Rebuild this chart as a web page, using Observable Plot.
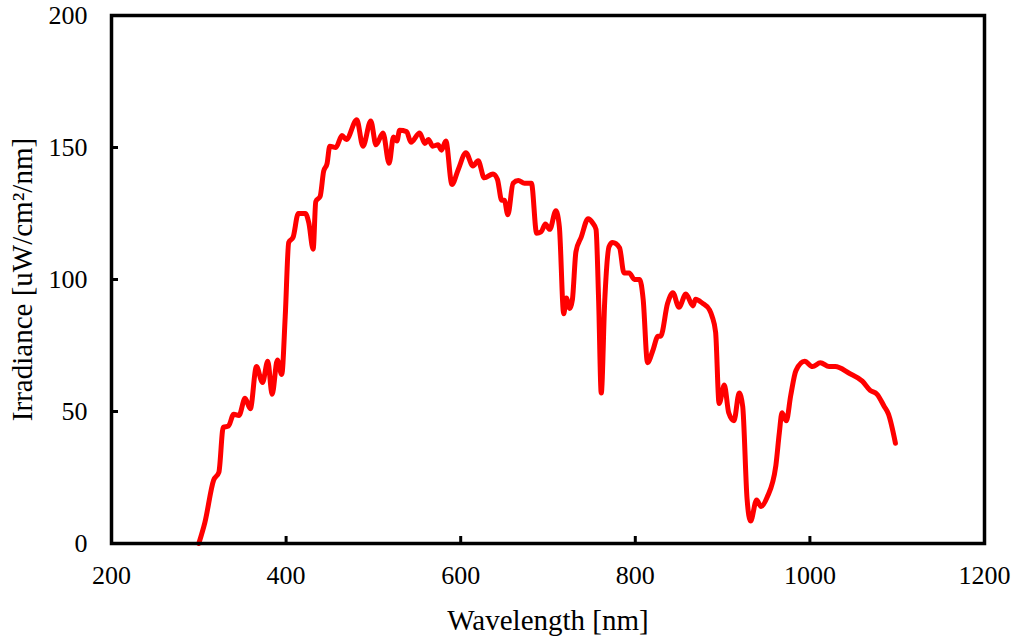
<!DOCTYPE html>
<html>
<head>
<meta charset="utf-8">
<script src="https://cdn.jsdelivr.net/npm/d3@7"></script>
<script src="https://cdn.jsdelivr.net/npm/@observablehq/plot@0.6"></script>
<style>
  html, body { margin: 0; padding: 0; background: #fff; }
</style>
</head>
<body>
<div id="chart"></div>
<script>
const wavelength = [300,307,317,323,328,334,340,346,353,359,366,373,379,384,390,395,399,403,408,414,422,426,431,434,439,443,447,450,457,464,469,481,488,497,503,511,518,523,527,530,538,543,553,559,563,568,574,578,583,590,597,606,614,620,627,637,642,647,650,654,660,666,673,681,687,692,697,702,709,713,718,721,725,728,732,738,746,751,755,758,761,765,770,774,782,787,793,799,805,809,814,820,826,829,837,843,850,858,866,869,877,885,888,892,896,902,907,913,919,923,928,932,939,944,951,961,965,968,973,978,984,994,1003,1012,1022,1029,1045,1060,1069,1077,1085,1090,1098];
const irradiance = [0,8,24,27,44,44.5,49,48.5,55,51,67,61,69,56.5,69.5,64,86,114,116,125,125,121.5,111.5,129.5,131.5,141,144,150.5,150,154.5,153,160.5,150.5,160,151,155.5,144,154,152.5,156.5,156,152,155.5,151.5,153,150.5,151,149,152.5,136,141.5,148,143,145,138.5,140,138,130,130,124.5,136.5,137.5,136.5,136.5,117.5,118,121,119,126,120,87,93,89,92.5,110.5,116,123,121.5,119,92,57,92,112.5,114,112,102.5,102.5,100,100,92.5,68.5,73,78.5,78.5,91,95,89.5,94.5,90,92.5,91,88.5,86,80,53,60,49.5,46.5,57,52,17,8.5,16.5,14,17.5,29.5,42,49.5,46.5,56,65.5,69,67,68.5,67,67,64.5,61.5,58,56.5,52,49,38];
const xTicks = [200,400,600,800,1000,1200];
const yTicks = [0,50,100,150,200];

const data = wavelength.map((w, i) => ({w, v: irradiance[i]}));
const font = "'Liberation Serif', 'Times New Roman', serif";

const chart = Plot.plot({
  width: 1024,
  height: 639,
  marginLeft: 111,
  marginRight: 40,
  marginTop: 15,
  marginBottom: 96,
  style: {fontFamily: font, fontSize: "26px", color: "#000", background: "#fff"},
  x: {domain: [200, 1200]},
  y: {domain: [0, 200]},
  marks: [
    Plot.line(data, {x: "w", y: "v", stroke: "#ff0000", strokeWidth: 5, curve: "monotone-x", strokeLinejoin: "round", strokeLinecap: "round"}),
    Plot.axisX({ticks: xTicks, tickSize: -7, strokeWidth: 3, text: null, label: null}),
    Plot.axisY({ticks: yTicks, tickSize: -7, strokeWidth: 3, text: null, label: null}),
    Plot.axisX({ticks: xTicks, tickSize: 0, tickPadding: 22, fontSize: 26, fontWeight: 300, tickFormat: d => String(d), label: null}),
    Plot.axisY({ticks: yTicks, tickSize: 0, tickPadding: 24, fontSize: 26, fontWeight: 300, tickFormat: d => String(d), label: null}),
    Plot.axisX({ticks: [], tickSize: 0, fontSize: 29, label: "Wavelength [nm]", labelAnchor: "center", labelArrow: "none", labelOffset: 86}),
    Plot.axisY({ticks: [], tickSize: 0, fontSize: 29, label: "Irradiance [uW/cm²/nm]", labelAnchor: "center", labelArrow: "none", labelOffset: 100}),
    Plot.frame({stroke: "#000", strokeWidth: 3.5})
  ]
});
document.getElementById("chart").appendChild(chart);
</script>
</body>
</html>
